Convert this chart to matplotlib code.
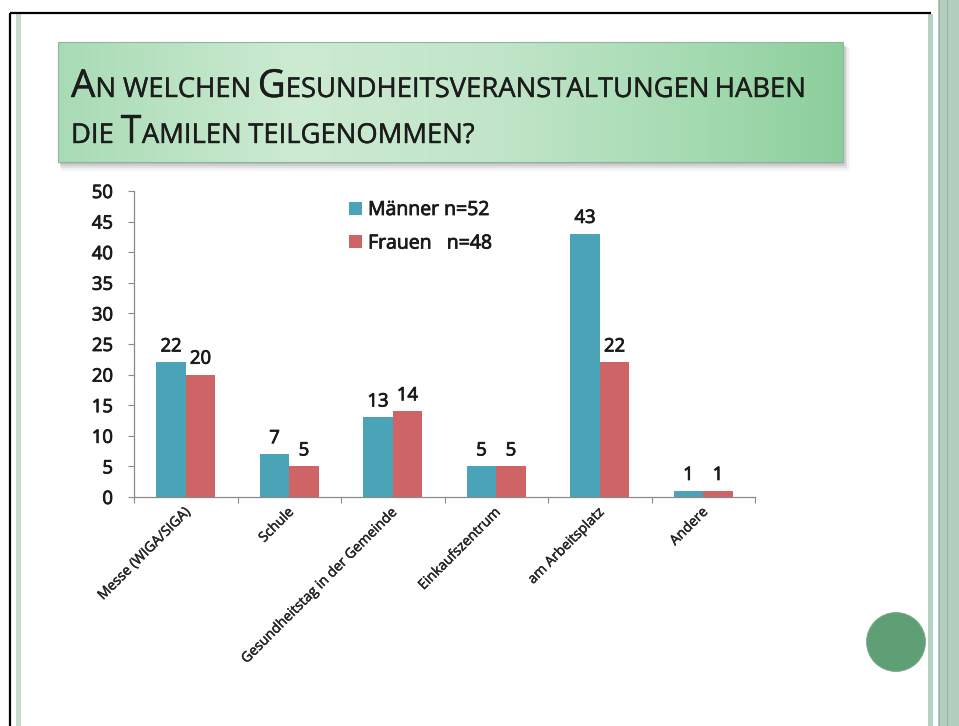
import matplotlib
matplotlib.use("Agg")
import matplotlib.pyplot as plt
import numpy as np
from matplotlib.patches import Rectangle, Circle
from matplotlib.transforms import ScaledTranslation
import matplotlib.patheffects as pe

plt.rcParams['font.family'] = ['Open Sans', 'DejaVu Sans']

# ---------------- data ----------------
categories = ["Messe (WIGA/SIGA)", "Schule", "Gesundheitstag in der Gemeinde",
              "Einkaufszentrum", "am Arbeitsplatz", "Andere"]
maenner = [22, 7, 13, 5, 43, 1]
frauen = [20, 5, 14, 5, 22, 1]
series_labels = ["Männer n=52", "Frauen   n=48"]
y_ticks = [0, 5, 10, 15, 20, 25, 30, 35, 40, 45, 50]
title_lines = ["An welchen Gesundheitsveranstaltungen haben",
               "die Tamilen teilgenommen?"]

# ---------------- figure ----------------
W, H = 959, 726
fig = plt.figure(figsize=(W / 100, H / 100), dpi=100)
fig.patch.set_facecolor("white")

bg = fig.add_axes([0, 0, 1, 1], zorder=0)
bg.set_xlim(0, W)
bg.set_ylim(H, 0)
bg.axis("off")

# slide frame
bg.plot([10, 931], [13, 13], color="black", lw=1.6, solid_capstyle="butt")
bg.plot([10, 10], [13, H], color="black", lw=1.6, solid_capstyle="butt")
bg.add_patch(Rectangle((16, 14), 4.5, H - 14, color="#c6dccf", lw=0))
bg.add_patch(Rectangle((928, 14), 5, H - 14, color="#b7d1c3", lw=0))
bg.add_patch(Rectangle((938, 0), 21, H, color="#b4cdbf", lw=0))
bg.add_patch(Rectangle((938.5, 0), 1.5, H, color="#8fb6a1", lw=0))
bg.add_patch(Rectangle((946.5, 0), 1.5, H, color="#8fb6a1", lw=0))

# decorative circle
bg.add_patch(Circle((896, 642), 29.5, facecolor="#5f9f75", edgecolor="#78ae8c", lw=0.6))

# title box shadow
for i, a in enumerate([0.10, 0.08, 0.06, 0.04, 0.02]):
    bg.add_patch(Rectangle((58 + 1 + i * 0.5, 44 + i), 785 + i, 120 + i,
                           facecolor="black", alpha=a, lw=0))
# title box gradient
stops = np.array([0.0, 0.3, 0.55, 0.8, 1.0])
cols = np.array([[0.66, 0.86, 0.71],
                 [0.80, 0.92, 0.82],
                 [0.76, 0.90, 0.79],
                 [0.65, 0.86, 0.70],
                 [0.55, 0.81, 0.61]])
xs = np.linspace(0, 1, 400)
grad = np.stack([np.interp(xs, stops, cols[:, k]) for k in range(3)], axis=-1)
grad = np.repeat(grad[None, :, :], 2, axis=0)
bg.imshow(grad, extent=(58, 843, 162, 42), aspect="auto", zorder=2, interpolation="bilinear")
bg.add_patch(Rectangle((58, 42), 785, 120, facecolor="none", edgecolor="#8fb69a", lw=0.8, zorder=3))
bg.set_xlim(0, W)
bg.set_ylim(H, 0)

# title in small caps
renderer = fig.canvas.get_renderer()
title_color = "#1c1c1c"
thick = [pe.withStroke(linewidth=0.3, foreground="#1c1c1c")]


def tokens(line):
    out = []
    for ch in line:
        if ch == " ":
            out.append((" ", None))
        else:
            big = ch.isupper()
            if out and out[-1][1] is big:
                out[-1] = (out[-1][0] + ch.upper(), big)
            else:
                out.append((ch.upper(), big))
    return out


def draw_line(line, x0, y0, big_fs, small_fs, keep=True):
    x = x0
    made = []
    probe1 = bg.text(0, 0, "II", fontsize=small_fs)
    probe2 = bg.text(0, 0, "I I", fontsize=small_fs)
    sp = probe2.get_window_extent(renderer).width - probe1.get_window_extent(renderer).width
    probe1.remove()
    probe2.remove()
    for txt, big in tokens(line):
        if big is None:
            x += sp
            continue
        t = bg.text(x, y0, txt, fontsize=big_fs if big else small_fs,
                    color=title_color, va="baseline", ha="left", zorder=4,
                    path_effects=thick)
        x += t.get_window_extent(renderer).width
        made.append(t)
    if not keep:
        for t in made:
            t.remove()
    return x - x0


big0, small0 = 18.0, 12.8
w0 = draw_line(title_lines[0], 71, 97, big0, small0, keep=False)
f = 738.0 / w0
f = min(max(f, 0.75), 1.6)
draw_line(title_lines[0], 71, 97, big0 * f, small0 * f)
draw_line(title_lines[1], 71, 143, big0 * f, small0 * f)

# ---------------- chart ----------------
ax = fig.add_axes([134 / W, 1 - 497 / H, 621 / W, 306 / H], zorder=2)
ax.patch.set_alpha(0)
x = np.arange(len(categories))
w = 0.285
b1 = ax.bar(x - w / 2, maenner, w, color="#4ba3b8", label=series_labels[0], zorder=2)
b2 = ax.bar(x + w / 2, frauen, w, color="#cf6467", label=series_labels[1], zorder=2)
lab_fs = 13.3
txt_fx = [pe.withStroke(linewidth=0.6, foreground="#1a1a1a")]
for bars in (b1, b2):
    for t in ax.bar_label(bars, padding=5, fontsize=lab_fs, color="#1a1a1a"):
        t.set_path_effects(txt_fx)

ax.set_xlim(-0.5, len(categories) - 0.5)
ax.set_ylim(0, 50)
ax.set_yticks(y_ticks)
for s in ["top", "right"]:
    ax.spines[s].set_visible(False)
for s in ["left", "bottom"]:
    ax.spines[s].set_color("#8a8a8a")
    ax.spines[s].set_linewidth(0.9)
ax.tick_params(axis="y", length=4.3, width=0.8, color="#8a8a8a", pad=10.8,
               labelsize=lab_fs, labelcolor="#1a1a1a")
for t in ax.get_yticklabels():
    t.set_path_effects(txt_fx)
ax.set_xticks(np.arange(-0.5, len(categories), 1))
ax.set_xticklabels([])
ax.tick_params(axis="x", which="major", length=4.3, width=0.8, color="#8a8a8a")
ax.set_xticks(x, minor=True)
ax.set_xticklabels(categories, minor=True, rotation=45, ha="right", va="center",
                   rotation_mode="anchor", fontsize=10, color="#262626")
ax.tick_params(axis="x", which="minor", length=0, pad=9.5)
cat_fx = [pe.withStroke(linewidth=0.35, foreground="#262626")]
for lab in ax.get_xticklabels(minor=True):
    lab.set_transform(lab.get_transform() + ScaledTranslation(2.5 / 100, 0, fig.dpi_scale_trans))
    lab.set_path_effects(cat_fx)

leg = ax.legend(handles=[b1, b2], fontsize=14, frameon=False, handlelength=0.68,
                handleheight=0.68, handletextpad=0.3, labelspacing=0.8, borderpad=0,
                borderaxespad=0, loc="upper left",
                bbox_to_anchor=(349 / W, 1 - 201 / H), bbox_transform=fig.transFigure,
                labelcolor="#1a1a1a")
for t in leg.get_texts():
    t.set_path_effects(txt_fx)

fig.savefig("out.png", dpi=100)
